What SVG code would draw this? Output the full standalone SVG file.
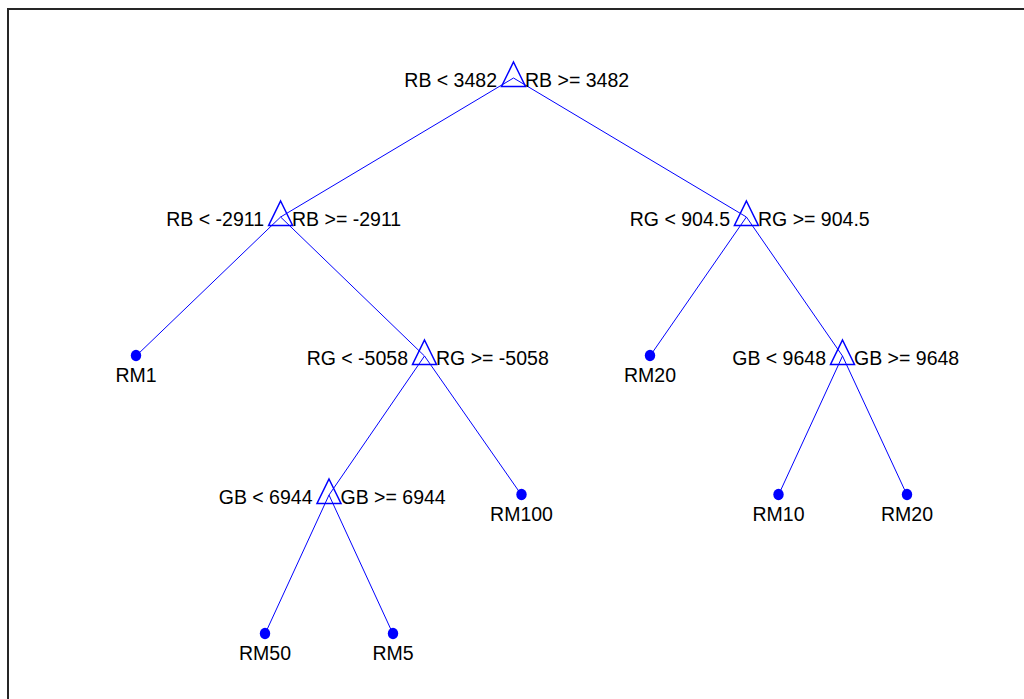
<svg xmlns="http://www.w3.org/2000/svg" width="1024" height="699" viewBox="0 0 1024 699">
  <style>
    .edge { stroke: #0000ff; stroke-width: 1; fill: none; }
    .split { stroke: #0000ff; stroke-width: 1.5; fill: none; stroke-linejoin: miter; }
    .leaf { fill: #0000ff; }
    text { font-family: "Liberation Sans", Arial, Helvetica, sans-serif; font-size: 19.5px; fill: #000000; }
    .lt { text-anchor: end; }
    .rt { text-anchor: start; }
    .lbl { text-anchor: middle; }
  </style>
  <defs>
    <path id="tri" d="M0,-16 L12,8.5 L-12,8.5 Z"/>
    <ellipse id="dot" cx="0" cy="0" rx="5.2" ry="5.8"/>
  </defs>
  <rect x="0" y="0" width="1024" height="699" fill="#ffffff"/>
  <!-- axes frame -->
  <path d="M8,699 L8,9 L1024,9" stroke="#262626" stroke-width="2" fill="none"/>

  <g id="connectors">
    <line class="edge" x1="513.5" y1="78" x2="280.6" y2="217"/>
    <line class="edge" x1="513.5" y1="78" x2="746.4" y2="217"/>
    <line class="edge" x1="280.6" y1="217" x2="136" y2="356"/>
    <line class="edge" x1="280.6" y1="217" x2="424.5" y2="356"/>
    <line class="edge" x1="746.4" y1="217" x2="650" y2="356"/>
    <line class="edge" x1="746.4" y1="217" x2="842.5" y2="356"/>
    <line class="edge" x1="424.5" y1="356" x2="329" y2="495"/>
    <line class="edge" x1="424.5" y1="356" x2="521.5" y2="495"/>
    <line class="edge" x1="842.5" y1="356" x2="778.5" y2="495"/>
    <line class="edge" x1="842.5" y1="356" x2="907" y2="495"/>
    <line class="edge" x1="329" y1="495" x2="265" y2="634"/>
    <line class="edge" x1="329" y1="495" x2="393" y2="634"/>
  </g>

  <g id="n1">
    <use href="#tri" class="split" x="513.5" y="78"/>
    <text class="lt" x="497" y="87">RB &lt; 3482</text>
    <text class="rt" x="525" y="87">RB &gt;= 3482</text>
  </g>
  <g id="n2">
    <use href="#tri" class="split" x="280.6" y="217"/>
    <text class="lt" x="264" y="226">RB &lt; -2911</text>
    <text class="rt" x="292" y="226">RB &gt;= -2911</text>
  </g>
  <g id="n3">
    <use href="#tri" class="split" x="746.4" y="217"/>
    <text class="lt" x="730" y="226">RG &lt; 904.5</text>
    <text class="rt" x="758" y="226">RG &gt;= 904.5</text>
  </g>
  <g id="n4">
    <use href="#dot" class="leaf" x="136" y="355.5"/>
    <text class="lbl" x="136" y="382">RM1</text>
  </g>
  <g id="n5">
    <use href="#tri" class="split" x="424.5" y="356"/>
    <text class="lt" x="408" y="365">RG &lt; -5058</text>
    <text class="rt" x="436" y="365">RG &gt;= -5058</text>
  </g>
  <g id="n6">
    <use href="#dot" class="leaf" x="650" y="355.5"/>
    <text class="lbl" x="650" y="382">RM20</text>
  </g>
  <g id="n7">
    <use href="#tri" class="split" x="842.5" y="356"/>
    <text class="lt" x="826" y="365">GB &lt; 9648</text>
    <text class="rt" x="854" y="365">GB &gt;= 9648</text>
  </g>
  <g id="n8">
    <use href="#tri" class="split" x="329" y="495"/>
    <text class="lt" x="312.5" y="504">GB &lt; 6944</text>
    <text class="rt" x="340.5" y="504">GB &gt;= 6944</text>
  </g>
  <g id="n9">
    <use href="#dot" class="leaf" x="521.5" y="494.5"/>
    <text class="lbl" x="521.5" y="521">RM100</text>
  </g>
  <g id="n10">
    <use href="#dot" class="leaf" x="778.5" y="494.5"/>
    <text class="lbl" x="778.5" y="521">RM10</text>
  </g>
  <g id="n11">
    <use href="#dot" class="leaf" x="907" y="494.5"/>
    <text class="lbl" x="907" y="521">RM20</text>
  </g>
  <g id="n12">
    <use href="#dot" class="leaf" x="265" y="633.5"/>
    <text class="lbl" x="265" y="660">RM50</text>
  </g>
  <g id="n13">
    <use href="#dot" class="leaf" x="393" y="633.5"/>
    <text class="lbl" x="393" y="660">RM5</text>
  </g>
</svg>
